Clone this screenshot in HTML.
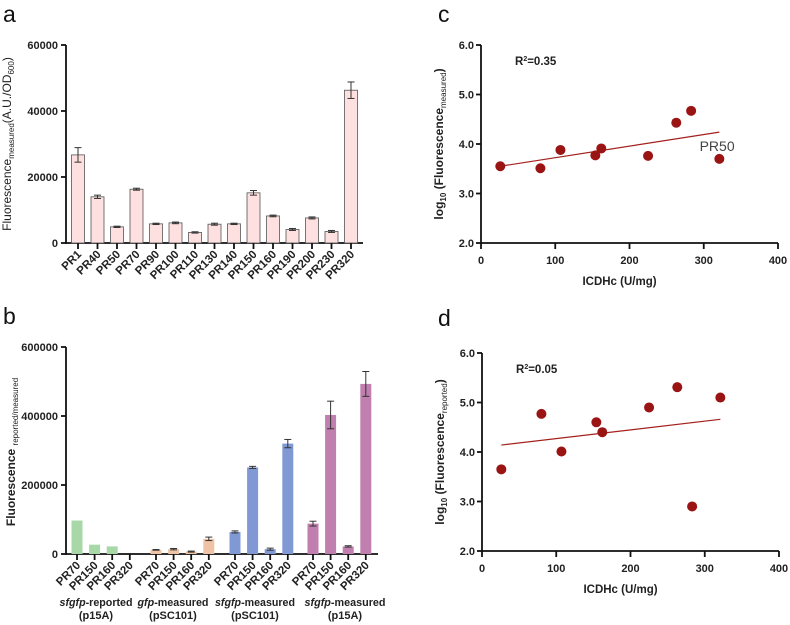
<!DOCTYPE html>
<html><head><meta charset="utf-8"><style>
body{margin:0;background:#fff;}
svg{display:block;font-family:"Liberation Sans",Arial,sans-serif;}
.tick{font-size:11px;font-weight:bold;fill:#222;}
.lbl{font-size:11.5px;font-weight:bold;fill:#222;}
.glbl{font-size:11px;font-weight:bold;fill:#222;}
.panel{font-size:23px;fill:#111;}
</style></head><body>
<svg id="fig" width="790" height="625" viewBox="0 0 790 625">
<text class="panel" x="3" y="22">a</text>
<text class="panel" x="3" y="324">b</text>
<text class="panel" x="438" y="22">c</text>
<text class="panel" x="438" y="326">d</text>
<g id="ga"></g>
<g id="gb"></g>
<g id="gc"></g>
<g id="gd"></g>
</svg>
<script>
// Panel a data
const aCats=["PR1","PR40","PR50","PR70","PR90","PR100","PR110","PR130","PR140","PR150","PR160","PR190","PR200","PR230","PR320"];
const aVals=[26700,14000,4900,16300,5800,6100,3200,5700,5800,15200,8200,4100,7600,3500,46300];
const aErr=[2200,500,200,300,200,250,200,300,200,700,250,300,300,300,2500];
const aTicks=[0,20000,40000,60000];
// Panel b data
const bCats=["PR70","PR150","PR160","PR320"];
const bGroups=["sfgfp-reported|(p15A)","gfp-measured|(pSC101)","sfgfp-measured|(pSC101)","sfgfp-measured|(p15A)"];
const bVals=[[97000,27000,22000,0],[12000,14000,7000,44000],[64000,251000,14000,320000],[88000,403000,22000,493000]];
const bErr=[[0,0,0,0],[1000,2000,1500,5000],[3000,3000,3000,12000],[7000,40000,2000,36000]];
const bTicks=[0,200000,400000,600000];
// Panel c data
const cX=[26,80,107,154,162,225,263,283,321];
const cY=[3.55,3.51,3.88,3.77,3.91,3.76,4.43,4.67,3.70];
const cFit=[[26,3.55],[321,4.24]];
// Panel d data
const dX=[26,80,107,154,162,225,263,283,321];
const dY=[3.65,4.77,4.01,4.60,4.40,4.90,5.31,2.90,5.10];
const dFit=[[26,4.14],[321,4.66]];
const xTicks=[0,100,200,300,400];
const yTicks=[2.0,3.0,4.0,5.0,6.0];

const NS="http://www.w3.org/2000/svg";
function mk(parent,tag,attrs,text){const e=document.createElementNS(NS,tag);for(const k in attrs)e.setAttribute(k,attrs[k]);if(text!==undefined)e.textContent=text;parent.appendChild(e);return e;}

// ---- Panel A
(function(){
const g=document.getElementById('ga');
const x0=66,y0=243,yTop=45,xEnd=363,max=60000;
const y=v=>y0-(v/max)*(y0-yTop);
const xc=i=>78+i*19.5;
mk(g,'line',{x1:x0,y1:yTop,x2:x0,y2:y0+1,stroke:'#111','stroke-width':1.8});
mk(g,'line',{x1:x0,y1:y0,x2:xEnd,y2:y0,stroke:'#111','stroke-width':1.8});
aTicks.forEach(t=>{mk(g,'line',{x1:x0-5,y1:y(t),x2:x0,y2:y(t),stroke:'#111','stroke-width':1.8});
const tt=mk(g,'text',{class:'tick',x:x0-8,y:y(t)+4,'text-anchor':'end'},t);

});
aCats.forEach((c,i)=>{
const b=mk(g,'rect',{x:xc(i)-6.5,y:y(aVals[i]),width:13,height:y0-y(aVals[i]),fill:'#fde0df',stroke:'#555','stroke-width':0.8});


const e1=y(aVals[i]+aErr[i]),e2=y(aVals[i]-aErr[i]);
mk(g,'line',{x1:xc(i),y1:e1,x2:xc(i),y2:e2,stroke:'#333','stroke-width':1});
mk(g,'line',{x1:xc(i)-3.5,y1:e1,x2:xc(i)+3.5,y2:e1,stroke:'#333','stroke-width':1});
mk(g,'line',{x1:xc(i)-3.5,y1:e2,x2:xc(i)+3.5,y2:e2,stroke:'#333','stroke-width':1});
mk(g,'line',{x1:xc(i),y1:y0,x2:xc(i),y2:y0+6,stroke:'#111','stroke-width':1.8});
const t=mk(g,'text',{class:'lbl','text-anchor':'end',transform:`translate(${xc(i)+4},${y0+12}) rotate(-45)`},c);


});
const yt=mk(g,'text',{'font-size':'12',fill:'#222','text-anchor':'middle',transform:'translate(11,144) rotate(-90)'});


yt.innerHTML='Fluorescence<tspan font-size="8" dy="3">measured</tspan><tspan dy="-3">(A.U./OD</tspan><tspan font-size="8" dy="3">600</tspan><tspan dy="-3">)</tspan>';
})();

// ---- Panel B
(function(){
const g=document.getElementById('gb');
const x0=66,y0=554,yTop=347,xEnd=378,max=600000;
const y=v=>y0-(v/max)*(y0-yTop);
const gStart=[77,156,235,313],step=17.6;
const gCenters=[96,173,255,345],gWidths=[73,71,80,81];
const colors=['#a8d8a8','#eec3a6','#8098d4','#c07fae'];
mk(g,'line',{x1:x0,y1:yTop,x2:x0,y2:y0+1,stroke:'#111','stroke-width':1.8});
mk(g,'line',{x1:x0,y1:y0,x2:xEnd,y2:y0,stroke:'#111','stroke-width':1.8});
bTicks.forEach(t=>{mk(g,'line',{x1:x0-5,y1:y(t),x2:x0,y2:y(t),stroke:'#111','stroke-width':1.8});
const tt=mk(g,'text',{class:'tick',x:x0-8,y:y(t)+4,'text-anchor':'end'},t);

});
bGroups.forEach((gr,gi)=>{
bCats.forEach((c,i)=>{
const xc=gStart[gi]+i*step,v=bVals[gi][i];
const b=mk(g,'rect',{x:xc-5.5,y:y(v),width:11,height:y0-y(v),fill:colors[gi]});


if(bErr[gi][i]>0){const e1=y(v+bErr[gi][i]),e2=y(v-bErr[gi][i]);
mk(g,'line',{x1:xc,y1:e1,x2:xc,y2:e2,stroke:'#333','stroke-width':1});
mk(g,'line',{x1:xc-3.5,y1:e1,x2:xc+3.5,y2:e1,stroke:'#333','stroke-width':1});
mk(g,'line',{x1:xc-3.5,y1:e2,x2:xc+3.5,y2:e2,stroke:'#333','stroke-width':1});}
mk(g,'line',{x1:xc,y1:y0,x2:xc,y2:y0+6,stroke:'#111','stroke-width':1.8});
const t=mk(g,'text',{class:'lbl','text-anchor':'end',transform:`translate(${xc+4},${y0+12}) rotate(-45)`},c);


});
const parts=gr.split('|');const cx=gCenters[gi];
const gl=mk(g,'text',{class:'glbl','text-anchor':'middle',x:cx,y:606,textLength:gWidths[gi],lengthAdjust:'spacingAndGlyphs','font-weight':'normal'});


const m=parts[0].split('-');
gl.innerHTML='<tspan font-style="italic">'+m[0]+'</tspan>-'+m[1];
const g2=mk(g,'text',{class:'glbl','text-anchor':'middle',x:cx,y:619},parts[1]);


});
const yt=mk(g,'text',{'font-size':'12','font-weight':'bold',fill:'#222','text-anchor':'middle',transform:'translate(15,452) rotate(-90)'});


yt.innerHTML='Fluorescence <tspan font-size="8" font-weight="normal" dy="3">reported/measured</tspan>';
})();

// ---- Scatter panels
function scatter(id,xs,ys,fit,ox,oy,ty,xr,r2,ytitleSub,extra){
const g=document.getElementById(id);
const x=v=>ox+v/400*(xr-ox);
const y=v=>oy-(v-2)/4*(oy-ty);
mk(g,'line',{x1:ox,y1:ty,x2:ox,y2:oy+1,stroke:'#111','stroke-width':1.8});
mk(g,'line',{x1:ox,y1:oy,x2:xr,y2:oy,stroke:'#111','stroke-width':1.8});
yTicks.forEach(t=>{mk(g,'line',{x1:ox-5,y1:y(t),x2:ox,y2:y(t),stroke:'#111','stroke-width':1.8});
const tt=mk(g,'text',{class:'tick',x:ox-7,y:y(t)+4,'text-anchor':'end'},t.toFixed(1));

});
xTicks.forEach(t=>{mk(g,'line',{x1:x(t),y1:oy,x2:x(t),y2:oy+6,stroke:'#111','stroke-width':1.8});
const tt=mk(g,'text',{class:'tick',x:x(t),y:oy+21,'text-anchor':'middle'},t);

});
const fl=mk(g,'line',{x1:x(fit[0][0]),y1:y(fit[0][1]),x2:x(fit[1][0]),y2:y(fit[1][1]),stroke:'#a3201d','stroke-width':1.2});


xs.forEach((v,i)=>{const p=mk(g,'circle',{cx:x(v),cy:y(ys[i]),r:5,fill:'#9b1414'});

});
const r=mk(g,'text',{class:'lbl',x:ox+34,y:ty+20});


r.innerHTML='R<tspan font-size="7" dy="-4">2</tspan><tspan dy="4">='+r2+'</tspan>';
const xt=mk(g,'text',{class:'lbl',x:(ox+xr)/2-10,y:oy+42,'text-anchor':'middle'},'ICDHc (U/mg)');


const yt=mk(g,'text',{'font-size':'12','font-weight':'bold',fill:'#222','text-anchor':'middle',transform:`translate(${ox-38},${(oy+ty)/2}) rotate(-90)`});


yt.innerHTML='log<tspan font-size="8" dy="3">10</tspan><tspan dy="-3"> (Fluorescence</tspan><tspan font-size="8" font-weight="normal" dy="3">'+ytitleSub+'</tspan><tspan dy="-3">)</tspan>';
if(extra){const t=mk(g,'text',{'font-size':'14',fill:'#444',x:x(extra[0]),y:y(extra[1]),'text-anchor':'middle'},extra[2]);

}
}
scatter('gc',cX,cY,cFit,481,243,45,778,'0.35','measured',[318,3.86,'PR50']);
scatter('gd',dX,dY,dFit,482,551,353,779,'0.05','reported',null);
</script>
</body></html>
